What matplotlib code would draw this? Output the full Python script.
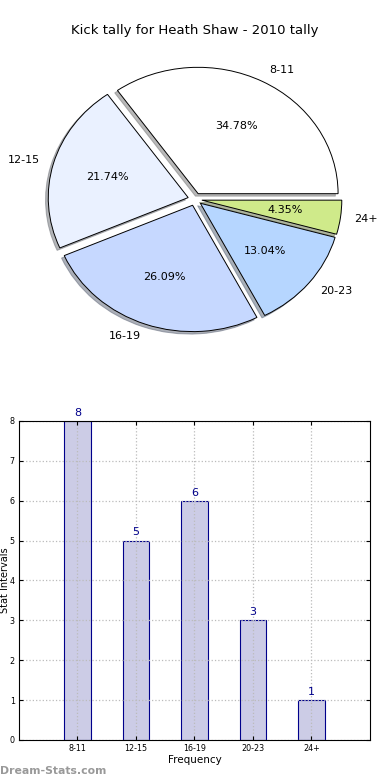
import matplotlib
matplotlib.use("Agg")
import matplotlib.pyplot as plt
import numpy as np

# ── Data ──
CATEGORIES = ["8-11", "12-15", "16-19", "20-23", "24+"]
COUNTS = [8, 5, 6, 3, 1]
PIE_COLORS = ["#FFFFFF", "#EAF1FF", "#C6D8FF", "#B6D6FF", "#CFEA8A"]
Y_TICKS = [0, 1, 2, 3, 4, 5, 6, 7, 8]

TITLE = "Kick tally for Heath Shaw - 2010 tally"

fig = plt.figure(figsize=(3.9, 7.8), dpi=100)

# ── Pie ──
ax1 = fig.add_axes([0.0513, 0.542, 0.897, 0.405])
wedges, texts, autotexts = ax1.pie(
    COUNTS, labels=CATEGORIES, colors=PIE_COLORS, explode=[0.05] * len(COUNTS),
    autopct="%1.2f%%", startangle=0,
    shadow={"ox": -0.014, "oy": -0.014, "shade": 0.55},
    wedgeprops=dict(edgecolor="black", linewidth=0.7),
    textprops=dict(fontsize=8))
ax1.set_aspect("auto")
ax1.set_xlim(-1.25, 1.25)
ax1.set_ylim(-1.25, 1.25)
ax1.axis("off")
fig.text(0.5, 0.961, TITLE, ha="center", va="center", fontsize=9.5)

# ── Bar chart ──
ax2 = fig.add_axes([0.0487, 0.0513, 0.9, 0.409])
x = np.arange(len(CATEGORIES))
bars = ax2.bar(x, COUNTS, width=0.45, color="#CCCCE6", edgecolor="#00008B",
               linewidth=0.8, zorder=2)
for bar, val in zip(bars, COUNTS):
    ax2.text(bar.get_x() + bar.get_width() / 2, val + 0.08, str(val),
             ha="center", va="bottom", color="#00008B", fontsize=8)
ax2.set_xlim(-1, 5)
ax2.set_ylim(0, 8)
ax2.set_xticks(x)
ax2.set_xticklabels(CATEGORIES, fontsize=5.8)
ax2.set_yticks(Y_TICKS)
ax2.tick_params(axis="y", labelsize=5.8)
ax2.tick_params(direction="in", top=True, right=True, length=3, pad=3)
ax2.grid(True, linestyle=":", color="#BBBBBB", linewidth=0.9, zorder=0)
ax2.set_axisbelow(False)
for sp in ax2.spines.values():
    sp.set_zorder(5)
ax2.set_xlabel("Frequency", fontsize=7.5, labelpad=1)
ax2.set_ylabel("Stat Intervals", fontsize=7)
ax2.yaxis.set_label_coords(-0.027, 0.5)

fig.text(0.0, 0.012, "Dream-Stats.com", fontsize=7.8, color="#999999",
         ha="left", va="center", fontweight="bold")

fig.savefig("out.png", dpi=100)
